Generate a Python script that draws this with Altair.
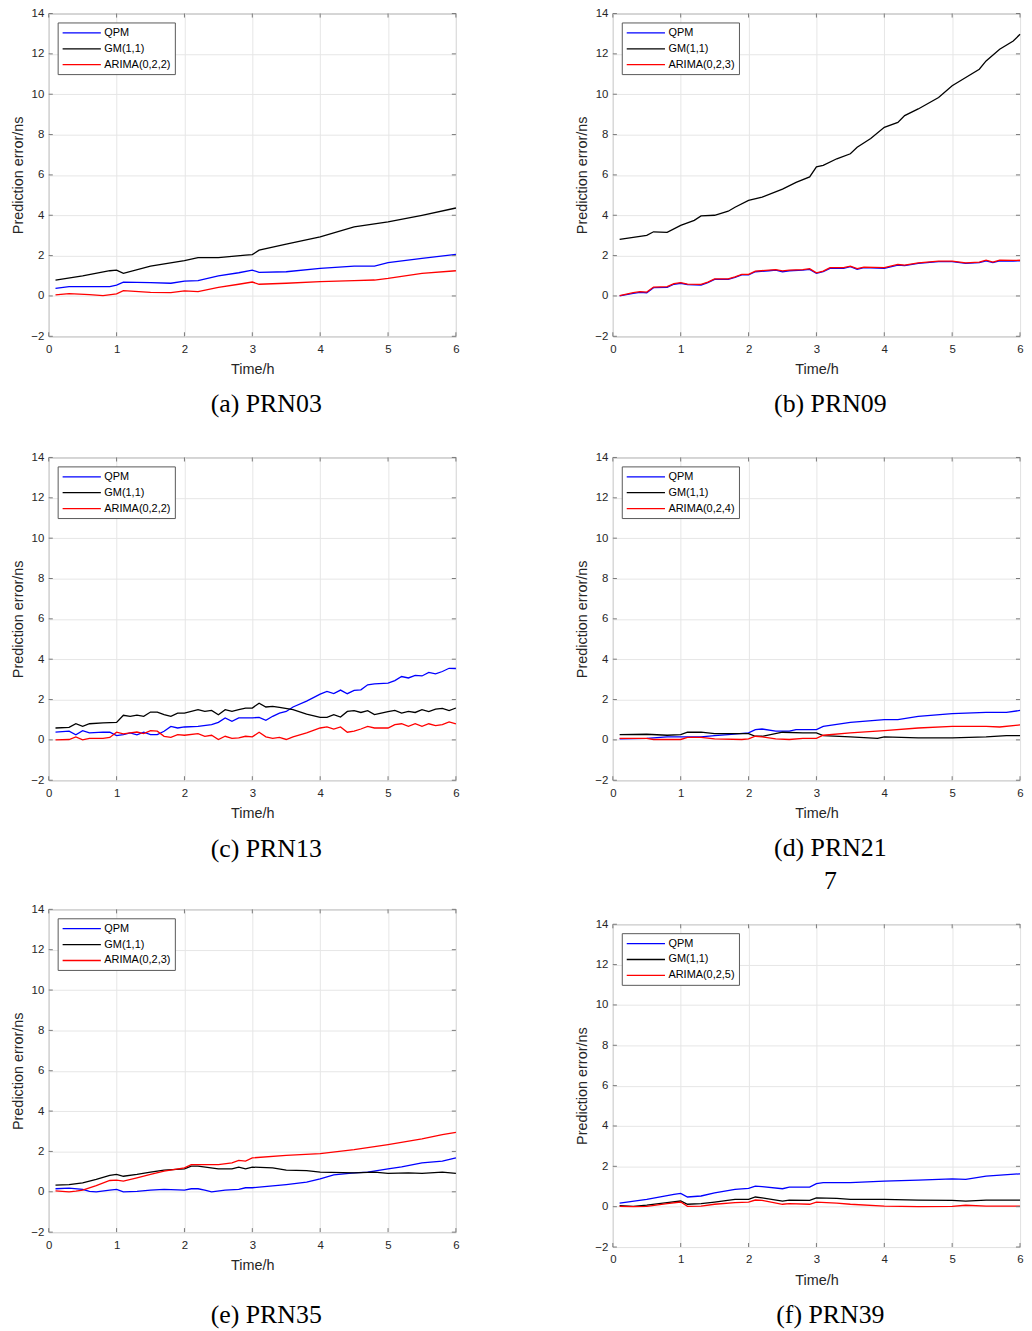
import altair as alt
import pandas as pd

# ---------------- data ----------------
X_TICKS = [0, 1, 2, 3, 4, 5, 6]
Y_TICKS = [-2, 0, 2, 4, 6, 8, 10, 12, 14]
LINE_COLORS = ["#0000ff", "#000000", "#ff0000"]

# (a) PRN03
A_QPM_T = [0.1, 0.3, 0.9, 1.0, 1.1, 1.5, 1.8, 2.0, 2.2, 2.5, 2.8, 3.0, 3.1, 3.5, 4.0, 4.5, 4.8, 5.0, 5.5, 6.0]
A_QPM_V = [0.38, 0.46, 0.46, 0.54, 0.69, 0.66, 0.63, 0.74, 0.76, 0.99, 1.15, 1.28, 1.17, 1.2, 1.37, 1.48, 1.48, 1.65, 1.86, 2.06]
A_GM_T = [0.1, 0.5, 0.9, 1.0, 1.1, 1.5, 2.0, 2.2, 2.5, 2.9, 3.0, 3.1, 3.5, 4.0, 4.5, 5.0, 5.5, 6.0]
A_GM_V = [0.79, 0.99, 1.25, 1.28, 1.12, 1.48, 1.75, 1.9, 1.9, 2.02, 2.05, 2.27, 2.57, 2.93, 3.42, 3.67, 4.0, 4.36]
A_AR_T = [0.1, 0.3, 0.6, 0.8, 1.0, 1.1, 1.5, 1.8, 2.0, 2.2, 2.5, 2.8, 3.0, 3.1, 3.5, 4.0, 4.5, 4.8, 5.0, 5.5, 6.0]
A_AR_V = [0.05, 0.12, 0.07, 0.02, 0.1, 0.26, 0.18, 0.16, 0.25, 0.21, 0.43, 0.58, 0.69, 0.58, 0.63, 0.71, 0.76, 0.79, 0.87, 1.12, 1.25]

# (b) PRN09
B_GM_T = [0.1, 0.3, 0.5, 0.6, 0.8, 1.0, 1.2, 1.3, 1.5, 1.7, 1.8, 2.0, 2.2, 2.5, 2.7, 2.9, 3.0, 3.1, 3.3, 3.5,
          3.6, 3.8, 4.0, 4.2, 4.3, 4.5, 4.8, 5.0, 5.2, 5.4, 5.5, 5.7, 5.9, 6.0]
B_GM_V = [2.8, 2.9, 3.0, 3.18, 3.15, 3.5, 3.75, 3.97, 4.0, 4.2, 4.4, 4.74, 4.9, 5.3, 5.63, 5.9, 6.4, 6.47, 6.8, 7.05,
          7.37, 7.8, 8.36, 8.6, 8.94, 9.27, 9.84, 10.42, 10.83, 11.24, 11.65, 12.23, 12.64, 12.97]
B_QPM_T = [0.1, 0.3, 0.4, 0.5, 0.6, 0.8, 0.9, 1.0, 1.1, 1.3, 1.4, 1.5, 1.7, 1.8, 1.9, 2.0, 2.1, 2.3, 2.4, 2.5,
           2.6, 2.8, 2.9, 3.0, 3.1, 3.2, 3.4, 3.5, 3.6, 3.7, 4.0, 4.2, 4.3, 4.5, 4.8, 5.0, 5.2, 5.4, 5.5, 5.6,
           5.7, 5.9, 6.0]
B_QPM_V = [0.0, 0.13, 0.18, 0.16, 0.41, 0.43, 0.58, 0.63, 0.56, 0.54, 0.66, 0.82, 0.82, 0.92, 1.04, 1.04, 1.2, 1.25,
           1.28, 1.2, 1.25, 1.28, 1.32, 1.12, 1.2, 1.37, 1.37, 1.45, 1.32, 1.4, 1.37, 1.53, 1.5, 1.61, 1.7, 1.7,
           1.61, 1.65, 1.74, 1.65, 1.74, 1.73, 1.74]
B_AR_T = B_QPM_T
B_AR_V = [0.02, 0.16, 0.21, 0.19, 0.44, 0.46, 0.61, 0.66, 0.59, 0.57, 0.69, 0.85, 0.85, 0.95, 1.07, 1.07, 1.23, 1.28,
          1.31, 1.24, 1.28, 1.31, 1.35, 1.15, 1.23, 1.40, 1.40, 1.48, 1.36, 1.43, 1.40, 1.56, 1.53, 1.64, 1.73, 1.73,
          1.64, 1.68, 1.77, 1.68, 1.77, 1.76, 1.77]

# (c) PRN13
C_QPM_T = [0.1, 0.3, 0.4, 0.5, 0.6, 0.8, 0.9, 1.0, 1.1, 1.2, 1.3, 1.4, 1.5, 1.6, 1.7, 1.8, 1.9, 2.0, 2.2, 2.4,
           2.5, 2.6, 2.7, 2.8, 3.0, 3.1, 3.2, 3.3, 3.4, 3.5, 3.6, 3.8, 4.0, 4.1, 4.2, 4.3, 4.4, 4.5, 4.6, 4.7,
           4.8, 5.0, 5.1, 5.2, 5.3, 5.4, 5.5, 5.6, 5.7, 5.8, 5.9, 6.0]
C_QPM_V = [0.39, 0.43, 0.25, 0.46, 0.35, 0.39, 0.38, 0.21, 0.26, 0.35, 0.25, 0.38, 0.26, 0.26, 0.43, 0.67, 0.59, 0.64,
           0.67, 0.76, 0.87, 1.09, 0.92, 1.09, 1.09, 1.12, 0.97, 1.17, 1.33, 1.41, 1.63, 1.92, 2.27, 2.4, 2.3, 2.47,
           2.29, 2.45, 2.48, 2.73, 2.78, 2.81, 2.94, 3.14, 3.07, 3.2, 3.17, 3.35, 3.27, 3.39, 3.55, 3.54]
C_GM_T = [0.1, 0.3, 0.4, 0.5, 0.6, 0.8, 1.0, 1.1, 1.2, 1.3, 1.4, 1.5, 1.6, 1.7, 1.8, 1.9, 2.0, 2.2, 2.3, 2.4,
          2.5, 2.6, 2.7, 2.8, 2.9, 3.0, 3.1, 3.2, 3.3, 3.4, 3.6, 3.8, 4.0, 4.1, 4.2, 4.3, 4.4, 4.5, 4.6, 4.7,
          4.8, 4.9, 5.0, 5.1, 5.2, 5.3, 5.4, 5.5, 5.6, 5.7, 5.8, 5.9, 6.0]
C_GM_V = [0.59, 0.62, 0.8, 0.67, 0.8, 0.84, 0.87, 1.22, 1.17, 1.23, 1.17, 1.38, 1.38, 1.25, 1.17, 1.33, 1.33, 1.5,
          1.41, 1.46, 1.25, 1.5, 1.41, 1.5, 1.58, 1.58, 1.82, 1.63, 1.66, 1.61, 1.5, 1.28, 1.12, 1.12, 1.25, 1.13,
          1.41, 1.45, 1.36, 1.45, 1.25, 1.33, 1.40, 1.46, 1.33, 1.41, 1.36, 1.5, 1.4, 1.53, 1.56, 1.45, 1.58]
C_AR_T = [0.1, 0.3, 0.4, 0.5, 0.6, 0.8, 0.9, 1.0, 1.1, 1.2, 1.3, 1.4, 1.5, 1.6, 1.7, 1.8, 1.9, 2.0, 2.2, 2.3,
          2.4, 2.5, 2.6, 2.7, 2.8, 2.9, 3.0, 3.1, 3.2, 3.3, 3.4, 3.5, 3.6, 3.8, 4.0, 4.1, 4.2, 4.3, 4.4, 4.5,
          4.6, 4.7, 4.8, 5.0, 5.1, 5.2, 5.3, 5.4, 5.5, 5.6, 5.7, 5.8, 5.9, 6.0]
C_AR_V = [0.0, 0.02, 0.15, 0.0, 0.08, 0.08, 0.12, 0.38, 0.30, 0.35, 0.39, 0.31, 0.46, 0.43, 0.18, 0.13, 0.26, 0.23,
          0.31, 0.18, 0.23, 0.02, 0.18, 0.08, 0.1, 0.18, 0.15, 0.38, 0.15, 0.08, 0.12, 0.02, 0.15, 0.35, 0.59, 0.64,
          0.54, 0.64, 0.38, 0.43, 0.54, 0.67, 0.59, 0.59, 0.76, 0.8, 0.67, 0.8, 0.67, 0.8, 0.71, 0.76, 0.89, 0.8]

# (d) PRN21
D_QPM_T = [0.1, 0.5, 0.8, 1.0, 1.3, 1.5, 1.7, 2.0, 2.1, 2.2, 2.4, 2.6, 2.7, 3.0, 3.1, 3.5, 4.0, 4.2, 4.5, 5.0,
           5.5, 5.8, 6.0]
D_QPM_V = [0.05, 0.08, 0.15, 0.15, 0.15, 0.21, 0.26, 0.35, 0.51, 0.54, 0.43, 0.43, 0.51, 0.51, 0.67, 0.87, 1.0, 1.0,
           1.17, 1.3, 1.36, 1.36, 1.46]
D_GM_T = [0.1, 0.5, 0.8, 1.0, 1.1, 1.3, 1.5, 1.8, 2.0, 2.1, 2.2, 2.5, 2.8, 3.0, 3.1, 3.5, 3.9, 4.0, 4.5, 5.0,
          5.5, 5.8, 6.0]
D_GM_V = [0.26, 0.28, 0.23, 0.26, 0.38, 0.38, 0.31, 0.31, 0.31, 0.18, 0.18, 0.38, 0.35, 0.35, 0.21, 0.15, 0.08, 0.15,
          0.1, 0.1, 0.15, 0.21, 0.21]
D_AR_T = [0.1, 0.5, 0.6, 1.0, 1.1, 1.3, 1.5, 1.9, 2.0, 2.1, 2.2, 2.4, 2.6, 2.8, 3.0, 3.1, 3.5, 4.0, 4.5, 5.0,
          5.5, 5.7, 6.0]
D_AR_V = [0.08, 0.08, 0.02, 0.02, 0.12, 0.12, 0.05, 0.02, 0.05, 0.18, 0.15, 0.05, 0.02, 0.08, 0.08, 0.23, 0.35, 0.46,
          0.59, 0.67, 0.67, 0.64, 0.74]

# (e) PRN35
E_QPM_T = [0.1, 0.3, 0.5, 0.6, 0.7, 0.9, 1.0, 1.1, 1.3, 1.5, 1.7, 2.0, 2.1, 2.2, 2.3, 2.4, 2.6, 2.8, 2.9, 3.0,
           3.1, 3.5, 3.8, 4.0, 4.2, 4.5, 4.7, 5.0, 5.2, 5.5, 5.8, 6.0]
E_QPM_V = [0.15, 0.18, 0.12, 0.02, 0.0, 0.08, 0.12, 0.0, 0.02, 0.08, 0.12, 0.08, 0.15, 0.15, 0.08, 0.0, 0.08, 0.12,
           0.2, 0.2, 0.23, 0.36, 0.48, 0.64, 0.84, 0.94, 0.97, 1.14, 1.24, 1.43, 1.52, 1.68]
E_GM_T = [0.1, 0.3, 0.5, 0.7, 0.9, 1.0, 1.1, 1.3, 1.5, 1.7, 2.0, 2.1, 2.2, 2.5, 2.7, 2.8, 2.9, 3.0, 3.3, 3.5,
          3.8, 4.0, 4.5, 4.8, 5.0, 5.3, 5.5, 5.8, 6.0]
E_GM_V = [0.33, 0.36, 0.44, 0.61, 0.81, 0.86, 0.77, 0.86, 0.97, 1.07, 1.14, 1.27, 1.27, 1.14, 1.14, 1.22, 1.14, 1.22,
          1.19, 1.07, 1.05, 0.97, 0.94, 0.97, 0.91, 0.94, 0.91, 0.97, 0.91]
E_AR_T = [0.1, 0.3, 0.4, 0.5, 0.7, 0.9, 1.0, 1.1, 1.3, 1.5, 1.7, 2.0, 2.1, 2.5, 2.7, 2.8, 2.9, 3.0, 3.5, 4.0,
          4.5, 5.0, 5.5, 5.8, 6.0]
E_AR_V = [0.05, 0.0, 0.03, 0.08, 0.31, 0.56, 0.58, 0.53, 0.69, 0.86, 1.02, 1.19, 1.35, 1.35, 1.43, 1.56, 1.52, 1.68,
          1.8, 1.89, 2.09, 2.34, 2.62, 2.83, 2.95]

# (f) PRN39
F_QPM_T = [0.1, 0.5, 0.9, 1.0, 1.1, 1.3, 1.5, 1.8, 2.0, 2.1, 2.2, 2.5, 2.6, 2.9, 3.0, 3.1, 3.5, 4.0, 4.5, 5.0,
           5.2, 5.5, 6.0]
F_QPM_V = [0.18, 0.36, 0.61, 0.66, 0.48, 0.53, 0.69, 0.86, 0.91, 1.02, 0.99, 0.89, 0.97, 0.97, 1.14, 1.19, 1.19, 1.27,
           1.32, 1.38, 1.35, 1.52, 1.63]
F_GM_T = [0.1, 0.3, 0.5, 0.8, 1.0, 1.1, 1.3, 1.5, 1.8, 2.0, 2.1, 2.2, 2.5, 2.6, 2.9, 3.0, 3.3, 3.5, 4.0, 4.5,
          5.0, 5.2, 5.5, 6.0]
F_GM_V = [0.05, 0.02, 0.08, 0.2, 0.28, 0.12, 0.15, 0.23, 0.36, 0.36, 0.48, 0.44, 0.28, 0.33, 0.31, 0.44, 0.41, 0.36,
          0.36, 0.33, 0.31, 0.28, 0.33, 0.33]
F_AR_T = F_GM_T
F_AR_V = [0.02, 0.0, 0.02, 0.15, 0.23, 0.02, 0.03, 0.12, 0.2, 0.23, 0.33, 0.31, 0.12, 0.15, 0.12, 0.23, 0.18, 0.12,
          0.03, 0.0, 0.02, 0.07, 0.03, 0.03]

# ---------------- styling ----------------
SANS = "Liberation Sans"
SERIF = "Liberation Serif"
W, H = 410, 325
FRAME = "#8c8c8c"
TICK = "#7a7a7a"


def make_panel(caption, arima, series, cap_offset, subtitle=None):
    labels = ["QPM", "GM(1,1)", arima]
    rows = []
    for (ts, vs), lab in zip(series, labels):
        assert len(ts) == len(vs), (caption, lab, len(ts), len(vs))
        for t, v in zip(ts, vs):
            rows.append({"t": t, "v": v, "model": lab})
    df = pd.DataFrame(rows)

    xs = alt.Scale(domain=[0, 6], nice=False, zero=False)
    ys = alt.Scale(domain=[-2, 14], nice=False, zero=False)
    xax = alt.Axis(values=X_TICKS, title="Time/h", labelFlush=False, format="d")
    yax = alt.Axis(values=Y_TICKS, title="Prediction error/ns", format="d")

    lines = alt.Chart(df).mark_line(strokeWidth=1.3).encode(
        x=alt.X("t:Q", scale=xs, axis=xax),
        y=alt.Y("v:Q", scale=ys, axis=yax),
        color=alt.Color(
            "model:N",
            scale=alt.Scale(domain=labels, range=LINE_COLORS),
            legend=alt.Legend(
                title=None, orient="top-left", offset=9, padding=4,
                strokeColor="#595959", fillColor="white", cornerRadius=0,
                # a short custom path drawn to the right of the symbol slot
                symbolType="M-1,0H6", symbolSize=121, symbolStrokeWidth=1.3,
                labelFont=SANS, labelFontSize=11, labelColor="#000000",
                labelOffset=30, rowPadding=4,
            ),
        ),
    )

    ydf = pd.DataFrame({"v": Y_TICKS})
    xdf = pd.DataFrame({"t": X_TICKS})
    tick_style = dict(color=TICK, strokeWidth=1)
    yt_left = alt.Chart(ydf).mark_rule(**tick_style).encode(
        y=alt.Y("v:Q", title="Prediction error/ns"), x=alt.datum(0), x2=alt.datum(0.06))
    yt_right = alt.Chart(ydf).mark_rule(**tick_style).encode(
        y=alt.Y("v:Q", title="Prediction error/ns"), x=alt.datum(5.94), x2=alt.datum(6))
    xt_bot = alt.Chart(xdf).mark_rule(**tick_style).encode(
        x=alt.X("t:Q", title="Time/h"), y=alt.datum(-2), y2=alt.datum(-1.8))
    xt_top = alt.Chart(xdf).mark_rule(**tick_style).encode(
        x=alt.X("t:Q", title="Time/h"), y=alt.datum(13.8), y2=alt.datum(14))

    title_kw = dict(
        text=caption, orient="bottom", anchor="middle", frame="group", dx=14,
        offset=cap_offset, font=SERIF, fontSize=26, fontWeight="normal", color="#000000",
    )
    if subtitle:
        title_kw.update(subtitle=subtitle, subtitleFont=SERIF, subtitleFontSize=26,
                        subtitleColor="#000000", subtitlePadding=8)

    return alt.layer(lines, yt_left, yt_right, xt_bot, xt_top).properties(
        width=W, height=H, title=alt.TitleParams(**title_kw))


pa = make_panel("(a) PRN03", "ARIMA(0,2,2)",
                [(A_QPM_T, A_QPM_V), (A_GM_T, A_GM_V), (A_AR_T, A_AR_V)], 15)
pb = make_panel("(b) PRN09", "ARIMA(0,2,3)",
                [(B_QPM_T, B_QPM_V), (B_GM_T, B_GM_V), (B_AR_T, B_AR_V)], 15)
pc = make_panel("(c) PRN13", "ARIMA(0,2,2)",
                [(C_QPM_T, C_QPM_V), (C_GM_T, C_GM_V), (C_AR_T, C_AR_V)], 16)
pd_ = make_panel("(d) PRN21", "ARIMA(0,2,4)",
                 [(D_QPM_T, D_QPM_V), (D_GM_T, D_GM_V), (D_AR_T, D_AR_V)], 15,
                 subtitle="7" + "\u00a0" * 8)
pe = make_panel("(e) PRN35", "ARIMA(0,2,3)",
                [(E_QPM_T, E_QPM_V), (E_GM_T, E_GM_V), (E_AR_T, E_AR_V)], 30)
pf = make_panel("(f) PRN39", "ARIMA(0,2,5)",
                [(F_QPM_T, F_QPM_V), (F_GM_T, F_GM_V), (F_AR_T, F_AR_V)], 15)

left = alt.vconcat(
    alt.vconcat(pa, pc, spacing=33).resolve_scale(color="independent"),
    pe, spacing=40,
).resolve_scale(color="independent")
right = alt.vconcat(
    alt.vconcat(pb, pd_, spacing=33).resolve_scale(color="independent"),
    pf, spacing=22,
).resolve_scale(color="independent")

chart = (
    alt.hconcat(left, right, spacing=114)
    .resolve_scale(color="independent")
    .properties(padding={"left": 1, "top": -6, "right": 0, "bottom": 0})
    .configure_view(stroke=FRAME, strokeWidth=1)
    .configure_axis(
        grid=True, gridColor="#e6e6e6", gridWidth=1, domain=False, ticks=False, tickSize=0,
        labelFont=SANS, labelFontSize=11.5, labelColor="#262626",
        titleFont=SANS, titleFontSize=14.5, titleFontWeight="normal", titleColor="#262626",
    )
    .configure_axisX(labelPadding=7, titlePadding=8)
    .configure_axisY(labelPadding=5, titlePadding=5.5)
)

chart.save("out.html", embed_options={"renderer": "svg", "actions": False})
